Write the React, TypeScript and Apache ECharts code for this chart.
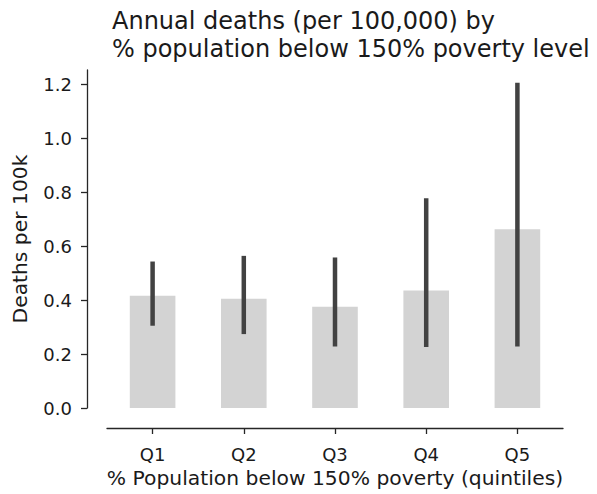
import React, { useEffect, useRef } from "react";
import * as echarts from "echarts";

const categories = ["Q1", "Q2", "Q3", "Q4", "Q5"];
const meanValues = [0.416, 0.405, 0.375, 0.436, 0.663];
const ciLow = [0.305, 0.274, 0.228, 0.226, 0.228];
const ciHigh = [0.543, 0.564, 0.558, 0.778, 1.206];
const yTicks = [0, 0.2, 0.4, 0.6, 0.8, 1.0, 1.2];

const FONT = "DejaVu Sans";

export default function App() {
  const ref = useRef<HTMLDivElement>(null);
  useEffect(() => {
    if (!ref.current) return;
    const chart = echarts.init(ref.current, null, { renderer: "svg" });
    const errData = categories.map((c, i) => [i, ciLow[i], ciHigh[i]]);
    chart.setOption({
      animation: false,
      backgroundColor: "#ffffff",
      title: {
        text: "Annual deaths (per 100,000) by\n% population below 150% poverty level",
        left: 107,
        top: 2,
        textStyle: {
          fontFamily: FONT,
          fontSize: 24,
          fontWeight: "normal",
          color: "#1a1a1a",
          lineHeight: 28,
        },
      },
      grid: { left: 107, right: 34, top: 70, bottom: 86, containLabel: false },
      xAxis: {
        type: "category",
        data: categories,
        offset: 20,
        boundaryGap: true,
        name: "% Population below 150% poverty (quintiles)",
        nameLocation: "middle",
        nameGap: 39,
        nameTextStyle: { fontFamily: FONT, fontSize: 20.3, color: "#1a1a1a" },
        axisLine: { show: true, onZero: false, lineStyle: { color: "#262626", width: 1.3 } },
        axisTick: { show: true, alignWithLabel: true, length: 6, lineStyle: { color: "#262626", width: 1.3 } },
        axisLabel: { fontFamily: FONT, fontSize: 18, color: "#1a1a1a", margin: 17 },
        splitLine: { show: false },
      },
      yAxis: {
        type: "value",
        min: 0,
        max: 1.253,
        interval: 0.2,
        offset: 20,
        name: "Deaths per 100k",
        nameLocation: "middle",
        nameGap: 57,
        nameTextStyle: { fontFamily: FONT, fontSize: 20.3, color: "#1a1a1a" },
        axisLine: { show: true, lineStyle: { color: "#262626", width: 1.3 } },
        axisTick: { show: true, length: 6, customValues: yTicks, lineStyle: { color: "#262626", width: 1.3 } },
        axisLabel: {
          fontFamily: FONT,
          fontSize: 18,
          color: "#1a1a1a",
          margin: 15,
          customValues: yTicks,
          formatter: (v: number) => v.toFixed(1),
        },
        splitLine: { show: false },
      },
      series: [
        {
          type: "bar",
          data: meanValues,
          barWidth: "50%",
          itemStyle: { color: "#d3d3d3" },
          z: 1,
        },
        {
          type: "custom",
          data: errData,
          z: 5,
          renderItem: (params: any, api: any) => {
            const x = api.value(0);
            const p1 = api.coord([x, api.value(1)]);
            const p2 = api.coord([x, api.value(2)]);
            return {
              type: "line",
              shape: { x1: p1[0], y1: p1[1], x2: p2[0], y2: p2[1] },
              style: { stroke: "#424242", lineWidth: 4.5 },
            };
          },
        },
      ],
    });
    return () => chart.dispose();
  }, []);
  return (
    <div
      ref={ref}
      style={{ position: "fixed", left: 0, top: 0, width: 597, height: 494 }}
    />
  );
}
